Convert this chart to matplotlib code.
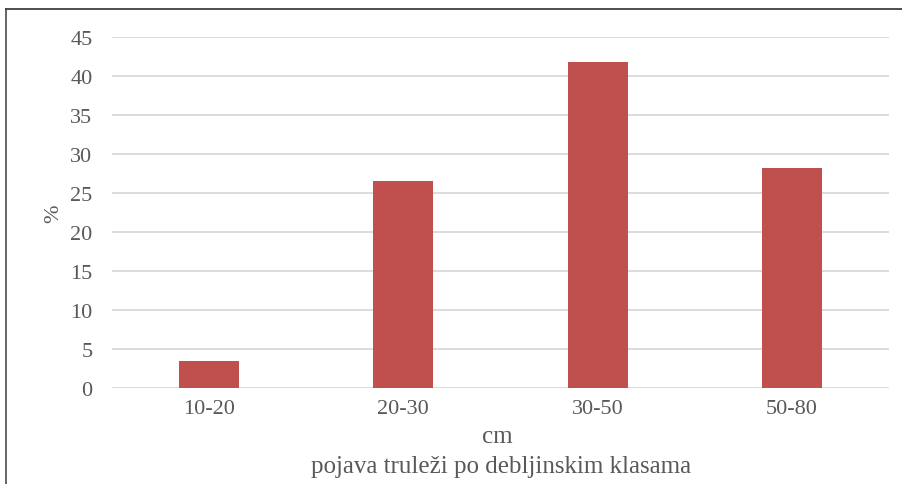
import matplotlib
matplotlib.use("Agg")
import matplotlib.pyplot as plt
from matplotlib.lines import Line2D

categories = ["10-20", "20-30", "30-50", "50-80"]
values = [3.5, 26.5, 41.8, 28.2]
yticks = [0, 5, 10, 15, 20, 25, 30, 35, 40, 45]

plt.rcParams['font.family'] = ['Liberation Serif', 'DejaVu Serif']
W, H = 903, 485
fig = plt.figure(figsize=(W/100, H/100), dpi=100)
ax = fig.add_axes([112/W, 1-389/H, (889-112)/W, (389-38)/H])

x = list(range(len(categories)))
ax.bar(x, values, width=0.31, color='#C0504D', zorder=3)
ax.set_xlim(-0.5, len(categories)-0.5)
ax.set_ylim(0, 45)
ax.set_yticks(yticks)
ax.set_xticks(x)
ax.set_xticklabels(categories)
ax.grid(axis='y', color='#D9D9D9', linewidth=1.3, zorder=0)
for s in ax.spines.values():
    s.set_visible(False)
fs = 16
ax.tick_params(axis='both', length=0, labelsize=fs, labelcolor='#595959')
ax.tick_params(axis='y', pad=14)
ax.tick_params(axis='x', pad=8)
ax.set_ylabel('%', fontsize=fs, color='#595959', labelpad=5)
fig.text(497/W, 1-437/H, 'cm', fontsize=18, color='#595959', ha='center', va='center')
fig.text(501/W, 1-467.5/H, 'pojava truleži po debljinskim klasama', fontsize=18, color='#595959', ha='center', va='center')

fig.add_artist(Line2D([5.5/W, 5.5/W], [0, 1-10/H], transform=fig.transFigure, color='#595959', lw=1.3))
fig.add_artist(Line2D([5.5/W, 1], [1-10/H, 1-10/H], transform=fig.transFigure, color='#404040', lw=1.3))

fig.savefig('out.png', dpi=100)
